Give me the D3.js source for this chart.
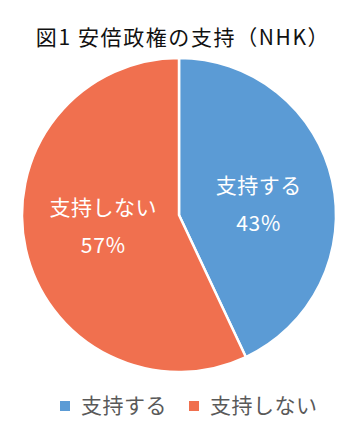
<!DOCTYPE html>
<html>
<head>
<meta charset="utf-8">
<script src="https://cdn.jsdelivr.net/npm/d3@7"></script>
<style>
  body { margin: 0; background: #fff; }
  svg { font-family: "Noto Sans CJK JP", "Noto Sans", sans-serif; }
</style>
</head>
<body>
<script>
var categories = ["支持する", "支持しない"];
var values = [43, 57];
var valueLabels = ["43%", "57%"];
var colours = ["#5B9BD5", "#F0704F"];

var w = 363;
var h = 430;
var cx = 179;
var cy = 215;
var radius = 157;

var svg = d3.select("body")
    .append("svg")
    .attr("width", w)
    .attr("height", h);

svg.append("text")
    .attr("x", 183)
    .attr("y", 45)
    .attr("text-anchor", "middle")
    .attr("font-size", 21)
    .attr("letter-spacing", 1.6)
    .attr("fill", "#111")
    .text("図1 安倍政権の支持（NHK）");

var pie = d3.pie().sort(null).value(function(d){ return d; });
var arc = d3.arc().innerRadius(0).outerRadius(radius);
var labelArc = d3.arc().innerRadius(radius * 0.52).outerRadius(radius * 0.52);

var g = svg.append("g")
    .attr("transform", "translate(" + cx + "," + cy + ")");

var arcs = pie(values);

g.selectAll("path")
    .data(arcs)
    .enter()
    .append("path")
    .attr("d", arc)
    .attr("fill", function(d, i){ return colours[i]; })
    .attr("stroke", "#fff")
    .attr("stroke-width", 2.5);

// excel nudges the labels a bit, not exactly at the centroid
var nudge = [[0, -4], [4, -18]];

var labels = g.selectAll("g.label")
    .data(arcs)
    .enter()
    .append("g")
    .attr("class", "label")
    .attr("transform", function(d, i){
      var c = labelArc.centroid(d);
      return "translate(" + (c[0] + nudge[i][0]) + "," + (c[1] + nudge[i][1]) + ")";
    });

labels.append("text")
    .attr("text-anchor", "middle")
    .attr("y", 0)
    .attr("font-size", 21)
    .attr("letter-spacing", 0.5)
    .attr("fill", "#fff")
    .text(function(d, i){ return categories[i]; });

labels.append("text")
    .attr("text-anchor", "middle")
    .attr("y", 38)
    .attr("font-size", 21)
    .attr("letter-spacing", 0.8)
    .attr("fill", "#fff")
    .text(function(d, i){ return valueLabels[i]; });

// legend
var legendX = [60, 189];
var legend = svg.selectAll("g.legend")
    .data(categories)
    .enter()
    .append("g")
    .attr("class", "legend")
    .attr("transform", function(d, i){ return "translate(" + legendX[i] + ",401)"; });

legend.append("rect")
    .attr("width", 10)
    .attr("height", 10)
    .attr("fill", function(d, i){ return colours[i]; });

legend.append("text")
    .attr("x", 21)
    .attr("y", 12)
    .attr("font-size", 21)
    .attr("letter-spacing", 0.5)
    .attr("fill", "#595959")
    .text(function(d){ return d; });
</script>
</body>
</html>
